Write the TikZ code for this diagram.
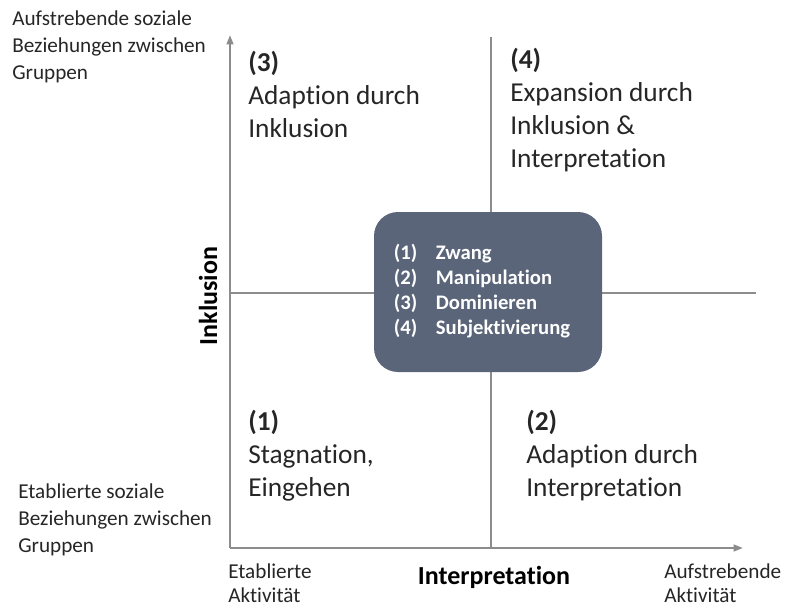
\documentclass[tikz,border=0pt]{standalone}
\usepackage{fontspec}
\setmainfont{Carlito}[Ligatures=CommonOff]
\usetikzlibrary{arrows.meta}

\definecolor{achsgrau}{RGB}{140,140,140}
\definecolor{kastenblau}{RGB}{90,101,121}
\definecolor{schrift}{RGB}{38,38,38}

\tikzset{
  axisline/.style={draw=achsgrau,line width=1.5pt},
  axistip/.style={-{Triangle[length=7pt,width=5pt]}},
  quadtext/.style={anchor=west,inner sep=0pt,align=left,text=schrift,
    font=\fontsize{20.5}{24.75}\selectfont},
  randtext/.style={anchor=west,inner sep=0pt,align=left,text=schrift,
    font=\fontsize{15.9}{20.3}\selectfont},
  achsname/.style={inner sep=0pt,text=black,font=\bfseries\fontsize{19.5}{22}\selectfont},
  strategien/.style={fill=kastenblau,rounded corners=18pt,minimum width=171pt,
    minimum height=120pt,text=white,font=\bfseries\fontsize{15.5}{18.75}\selectfont}
}

\begin{document}
\begin{tikzpicture}[x=0.75pt,y=-0.75pt]

  \useasboundingbox (0,0) rectangle (785,606);

  \coordinate (o) at (230,548);
  \coordinate (ytop) at (230,35);
  \coordinate (xend) at (743,548);
  \coordinate (mtop) at (491,37);
  \coordinate (mbot) at (491,548);
  \coordinate (mleft) at (230,293);
  \coordinate (mright) at (756,293);

  % Achsen und Quadranten
  \draw[axisline] (mtop) -- (mbot);
  \draw[axisline] (mleft) -- (mright);
  \draw[axisline,axistip] (o) -- (ytop);
  \draw[axisline,axistip] (o) -- (xend);

  % Strategien in der Mitte
  \node[strategien] (box) at (488,292)
    {\begin{tabular}{@{}l@{\hskip 14pt}l@{\hskip 9pt}}
      (1) & Zwang\\
      (2) & Manipulation\\
      (3) & Dominieren\\
      (4) & Subjektivierung
    \end{tabular}};

  % Quadranten
  \node[quadtext] (q3) at (248,94) {\textbf{(3)}\\Adaption durch\\Inklusion};
  \node[quadtext] (q4) at (510,110) {\textbf{(4)}\\Expansion durch\\Inklusion \&\\Interpretation};
  \node[quadtext] (q1) at (248,456) {\textbf{(1)}\\Stagnation,\\Eingehen};
  \node[quadtext] (q2) at (526,456) {\textbf{(2)}\\Adaption durch\\Interpretation};

  % Randbeschriftung
  \node[randtext] (yhoch) at (12,47) {Aufstrebende soziale\\Beziehungen zwischen\\Gruppen};
  \node[randtext] (ytief) at (18,520) {Etablierte soziale\\Beziehungen zwischen\\Gruppen};
  \node[randtext,font=\fontsize{15.9}{18}\selectfont] (xtief) at (228,583) {Etablierte\\Aktivität};
  \node[randtext,font=\fontsize{15.9}{18}\selectfont] (xhoch) at (664,583) {Aufstrebende\\Aktivität};

  \node[achsname] (xname) at (494,577) {Interpretation};
  \node[achsname,rotate=90] (yname) at (208,296) {Inklusion};

\end{tikzpicture}
\end{document}
